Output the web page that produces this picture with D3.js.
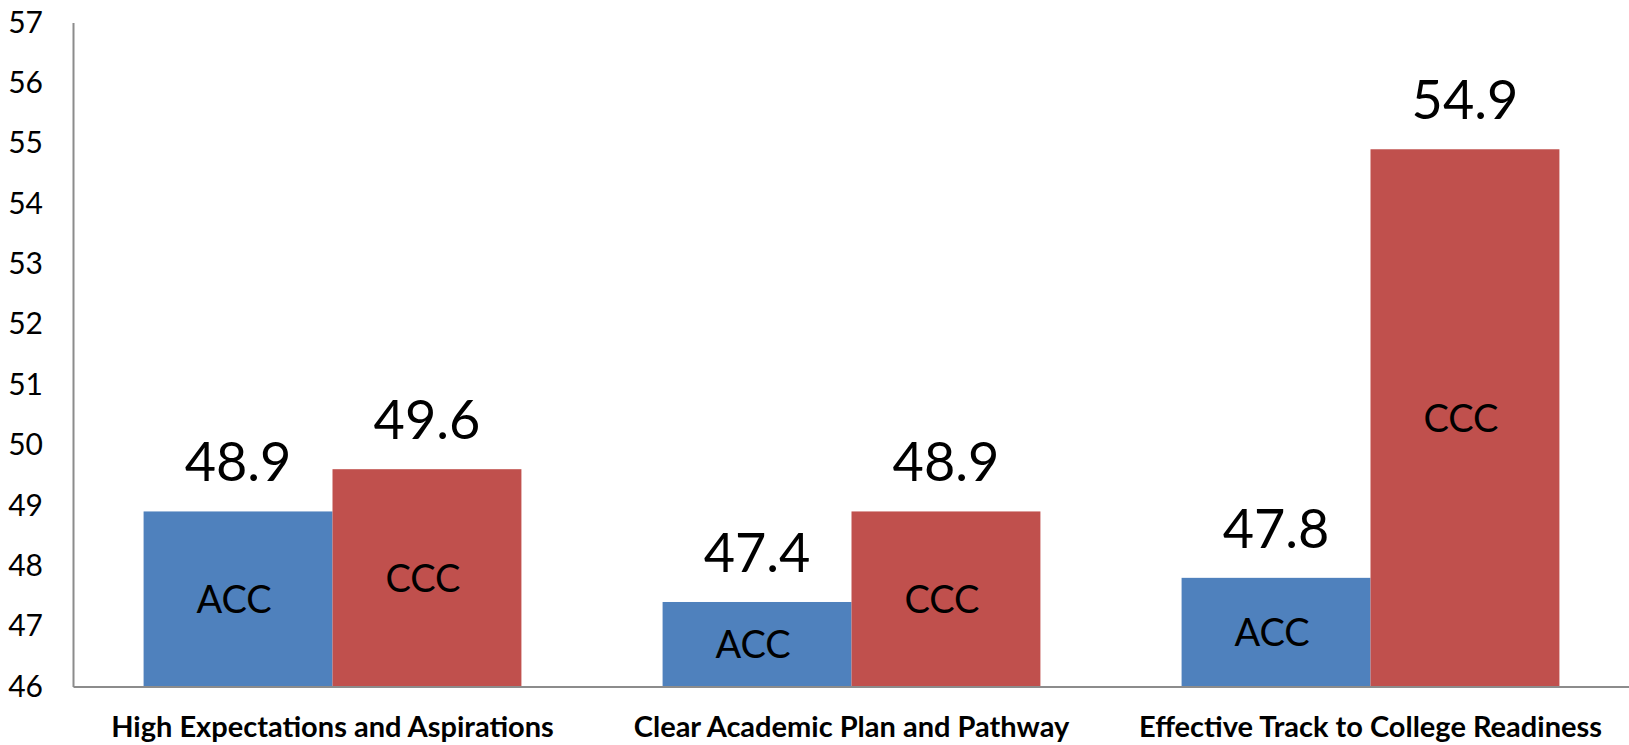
<!DOCTYPE html>
<html>
<head>
<meta charset="utf-8">
<script src="https://cdn.jsdelivr.net/npm/d3@7"></script>
<style>
    html, body { margin: 0; padding: 0; background: #fff; }
    svg text { font-family: Lato, "Open Sans", sans-serif; fill: #000; }
</style>
</head>
<body>
<div id="chart"></div>
<script>
//数据
const categories = ['High Expectations and Aspirations', 'Clear Academic Plan and Pathway', 'Effective Track to College Readiness'];
const seriesNames = ['ACC', 'CCC'];
const accValues = [48.9, 47.4, 47.8];
const cccValues = [49.6, 48.9, 54.9];
const yTicks = [46, 47, 48, 49, 50, 51, 52, 53, 54, 55, 56, 57];

const colors = { ACC: '#4f81bd', CCC: '#c0504d' };

//画布
const width = 1629, height = 745;
const plotLeft = 73, plotTop = 22.5, plotBottom = 686.5, plotRight = 1630;

const svg = d3.select('#chart').append('svg')
    .attr('width', width)
    .attr('height', height);

//比例尺
const x0 = d3.scaleBand()
    .domain(categories)
    .range([plotLeft, plotRight])
    .paddingInner(0.272)
    .paddingOuter(0.136);

const x1 = d3.scaleBand()
    .domain(seriesNames)
    .range([0, x0.bandwidth()]);

const y = d3.scaleLinear()
    .domain([46, 57])
    .range([plotBottom, plotTop]);

//整理数据
const rows = categories.map((c, i) => ({
    category: c,
    values: [
        { name: 'ACC', value: accValues[i] },
        { name: 'CCC', value: cccValues[i] }
    ]
}));

//柱子
const groups = svg.selectAll('g.group')
    .data(rows)
    .enter().append('g')
    .attr('class', 'group')
    .attr('transform', d => `translate(${x0(d.category)},0)`);

groups.selectAll('rect')
    .data(d => d.values)
    .enter().append('rect')
    .attr('x', d => x1(d.name))
    .attr('y', d => y(d.value))
    .attr('width', x1.bandwidth())
    .attr('height', d => y(46) - y(d.value))
    .attr('fill', d => colors[d.name]);

//数值标签
groups.selectAll('text.val')
    .data(d => d.values)
    .enter().append('text')
    .attr('class', 'val')
    .attr('x', d => x1(d.name) + x1.bandwidth() / 2)
    .attr('y', d => y(d.value) - 30)
    .attr('text-anchor', 'middle')
    .style('font-size', '54px')
    .text(d => d.value.toFixed(1));

//柱内名称
groups.selectAll('text.name')
    .data(d => d.values)
    .enter().append('text')
    .attr('class', 'name')
    .attr('x', d => x1(d.name) + x1.bandwidth() / 2 - 4)
    .attr('y', d => (y(d.value) + y(46)) / 2)
    .attr('dy', '0.36em')
    .attr('text-anchor', 'middle')
    .style('font-size', '38px')
    .text(d => d.name);

//y轴
const yAxis = svg.append('g')
    .attr('transform', `translate(${plotLeft},0)`)
    .call(d3.axisLeft(y).tickValues(yTicks).tickSize(0).tickPadding(30));
yAxis.select('.domain').attr('stroke', '#8c8c8c').attr('stroke-width', 2);
yAxis.selectAll('text')
    .style('font-size', '30px')
    .style('font-family', 'Lato, "Open Sans", sans-serif');

//x轴
const xAxis = svg.append('g')
    .attr('transform', `translate(0,${plotBottom})`)
    .call(d3.axisBottom(x0).tickSize(0));
xAxis.select('.domain').attr('stroke', '#8c8c8c').attr('stroke-width', 2);
xAxis.selectAll('text')
    .attr('y', 50)
    .attr('dy', 0)
    .style('font-size', '29px')
    .style('font-weight', 'bold')
    .style('font-family', 'Lato, "Open Sans", sans-serif');
</script>
</body>
</html>
